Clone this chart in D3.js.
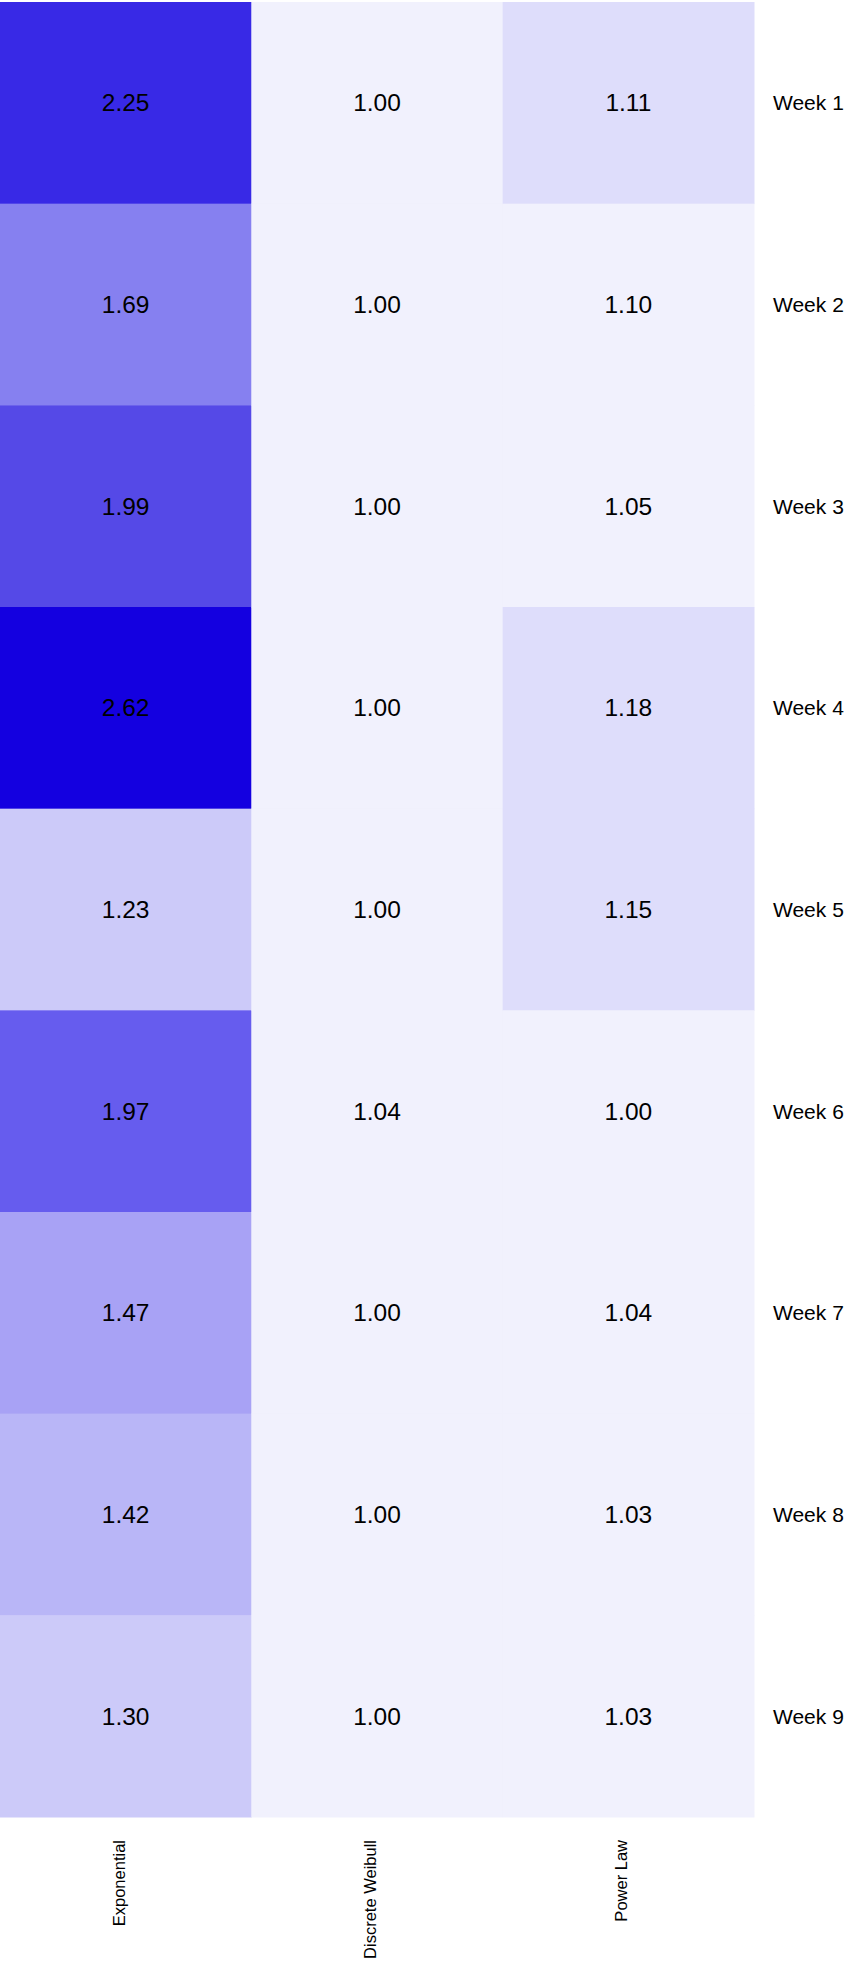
<!DOCTYPE html>
<html>
<head>
<meta charset="utf-8">
<script src="https://cdn.jsdelivr.net/npm/d3@7/dist/d3.min.js"></script>
<style>
  html, body { margin: 0; padding: 0; background: #ffffff; }
  svg { display: block; }
  text { font-family: "Liberation Sans", Arial, sans-serif; fill: #000; }
</style>
</head>
<body>
<svg id="chart" width="858" height="1971"></svg>
<script>
const models = ["Exponential", "Discrete Weibull", "Power Law"];
const weeks = ["Week 1", "Week 2", "Week 3", "Week 4", "Week 5", "Week 6", "Week 7", "Week 8", "Week 9"];
const exponential = [2.25, 1.69, 1.99, 2.62, 1.23, 1.97, 1.47, 1.42, 1.30];
const discreteWeibull = [1.00, 1.00, 1.00, 1.00, 1.00, 1.04, 1.00, 1.00, 1.00];
const powerLaw = [1.11, 1.10, 1.05, 1.18, 1.15, 1.00, 1.04, 1.03, 1.03];

const palette = ["#f1f1fd", "#deddfb", "#cccaf9", "#b9b6f7", "#a8a2f5", "#8680f0", "#665cee", "#5549e7", "#3829e6", "#1400e0"];
const thresholds = [1.105, 1.2, 1.35, 1.45, 1.6, 1.8, 1.98, 2.1, 2.5];

const seriesValues = [exponential, discreteWeibull, powerLaw];
const cells = [];
models.forEach((m, i) => weeks.forEach((w, j) => cells.push({ model: m, week: w, value: seriesValues[i][j] })));

const svg = d3.select("#chart");
const plotLeft = 0, plotRight = 754, plotTop = 2, plotBottom = 1817;

const x = d3.scaleBand().domain(models).range([plotLeft, plotRight]);
const y = d3.scaleBand().domain(weeks).range([plotTop, plotBottom]);
const color = d3.scaleThreshold().domain(thresholds).range(palette);

svg.append("g").selectAll("rect").data(cells).join("rect")
  .attr("x", d => x(d.model))
  .attr("y", d => y(d.week))
  .attr("width", x.bandwidth() + 0.5)
  .attr("height", y.bandwidth() + 0.5)
  .attr("fill", d => color(d.value));

svg.append("g").selectAll("text").data(cells).join("text")
  .attr("x", d => x(d.model) + x.bandwidth() / 2)
  .attr("y", d => y(d.week) + y.bandwidth() / 2)
  .attr("text-anchor", "middle")
  .attr("dominant-baseline", "central")
  .style("font-size", "24.5px")
  .text(d => d3.format(".2f")(d.value));

// Right axis (week labels)
svg.append("g").selectAll("text").data(weeks).join("text")
  .attr("x", plotRight + 19)
  .attr("y", d => y(d) + y.bandwidth() / 2)
  .attr("text-anchor", "start")
  .attr("dominant-baseline", "central")
  .style("font-size", "21px")
  .text(d => d);

// Bottom axis (rotated model labels)
svg.append("g").selectAll("text").data(models).join("text")
  .attr("transform", d => `translate(${x(d) + x.bandwidth() / 2 - 1},${plotBottom + 23}) rotate(-90)`)
  .attr("text-anchor", "end")
  .style("font-size", "16.5px")
  .text(d => d);
</script>
</body>
</html>
